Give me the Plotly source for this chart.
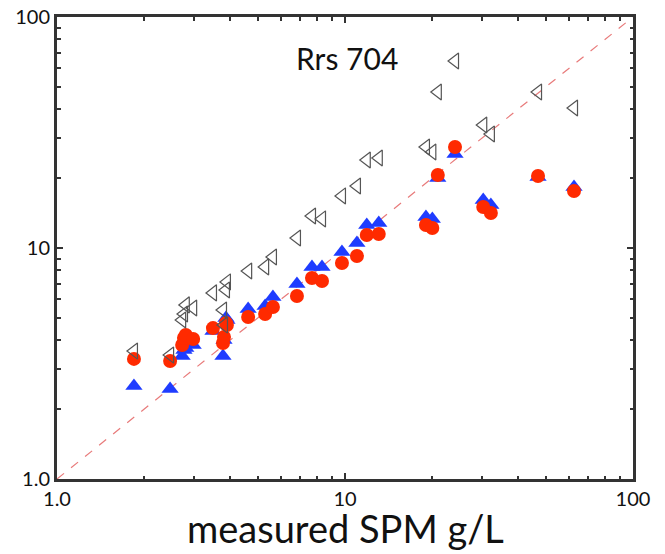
import plotly.graph_objects as go

# measured SPM (g/L)
measured = [1.85, 2.47, 2.72, 2.76, 2.80, 2.97, 3.48, 3.77, 3.80, 3.86, 3.89,
            4.61, 5.28, 5.62, 6.81, 7.68, 8.32, 9.76, 11.0, 11.9, 13.1,
            19.1, 20.1, 21.0, 24.1, 30.2, 32.1, 46.8, 62.4]
# retrieved SPM, three algorithms
grey_open = [3.58, 3.44, 4.88, 5.18, 5.67, 5.50, 6.39, 5.39, 4.64, 6.58, 7.13,
             7.95, 8.28, 9.14, 11.05, 13.76, 13.36, 16.8, 18.55, 24.04, 24.53,
             27.37, 26.04, 47.35, 64.5, 34.08, 31.16, 47.35, 40.37]
blue_tri = [2.53, 2.45, 3.41, 3.62, 3.69, 3.80, 4.37, 3.41, 4.00, 4.98, 4.88,
            5.44, 5.61, 6.14, 6.98, 8.28, 8.28, 9.61, 10.51, 12.58, 12.83,
            13.62, 13.36, 20.09, 25.53, 16.14, 15.36, 20.29, 18.37]
red_circ = [3.31, 3.24, 3.80, 4.08, 4.20, 4.04, 4.50, 3.88, 4.12, 4.74, 4.64,
            5.03, 5.18, 5.55, 6.20, 7.42, 7.20, 8.61, 9.23, 11.39, 11.50,
            12.58, 12.21, 20.70, 27.37, 15.05, 14.17, 20.50, 17.65]

one_to_one = [1, 100]
tick_vals = [1, 10, 100]
tick_text = ["1.0", "10", "100"]
minor_vals = [2, 3, 4, 5, 6, 7, 8, 9, 20, 30, 40, 50, 60, 70, 80, 90]

fig = go.Figure()
fig.add_trace(go.Scatter(x=one_to_one, y=one_to_one, mode="lines",
                         line=dict(color="#e87a7a", width=1.2, dash="dash"),
                         showlegend=False, hoverinfo="skip"))
fig.add_trace(go.Scatter(x=measured, y=blue_tri, mode="markers",
                         marker=dict(symbol="triangle-up", size=15, color="#1f3cff",
                                     line=dict(width=0)),
                         showlegend=False))
fig.add_trace(go.Scatter(x=measured, y=red_circ, mode="markers",
                         marker=dict(symbol="circle", size=14, color="#ff2a00",
                                     line=dict(width=0)),
                         showlegend=False))
fig.add_trace(go.Scatter(x=measured, y=grey_open, mode="markers",
                         marker=dict(symbol="triangle-left-open", size=14,
                                     color="#555555", line=dict(width=1.2)),
                         showlegend=False))

axis_common = dict(
    type="log", range=[0, 2], tickvals=tick_vals, ticktext=tick_text,
    ticks="inside", ticklen=6, tickwidth=2, tickcolor="#333333",
    showline=True, linewidth=3, linecolor="#333333", mirror="allticks",
    showgrid=False, zeroline=False, automargin=False,
    tickfont=dict(family="Lato", size=20, color="#111111"),
    minor=dict(tickvals=minor_vals, ticks="inside", ticklen=3.5, tickwidth=1.5,
               tickcolor="#333333", showgrid=False),
)

fig.update_layout(
    width=665, height=554,
    margin=dict(l=57, r=32, t=17, b=75),
    paper_bgcolor="white", plot_bgcolor="white",
    xaxis=dict(**axis_common),
    yaxis=dict(**axis_common),
    annotations=[
        dict(text="Rrs 704", xref="paper", yref="paper", x=0.503, y=0.912,
             showarrow=False, xanchor="center", yanchor="middle",
             font=dict(family="Lato", size=30, color="#111111")),
        dict(text="measured SPM g/L", xref="paper", yref="paper", x=0.5, y=-0.16,
             showarrow=False, xanchor="center", yanchor="bottom",
             font=dict(family="Lato", size=38, color="#111111")),
    ],
)

fig.write_html("out.html", config={"displayModeBar": False},
               post_script="document.body.style.margin='0';document.body.style.overflow='hidden';")
